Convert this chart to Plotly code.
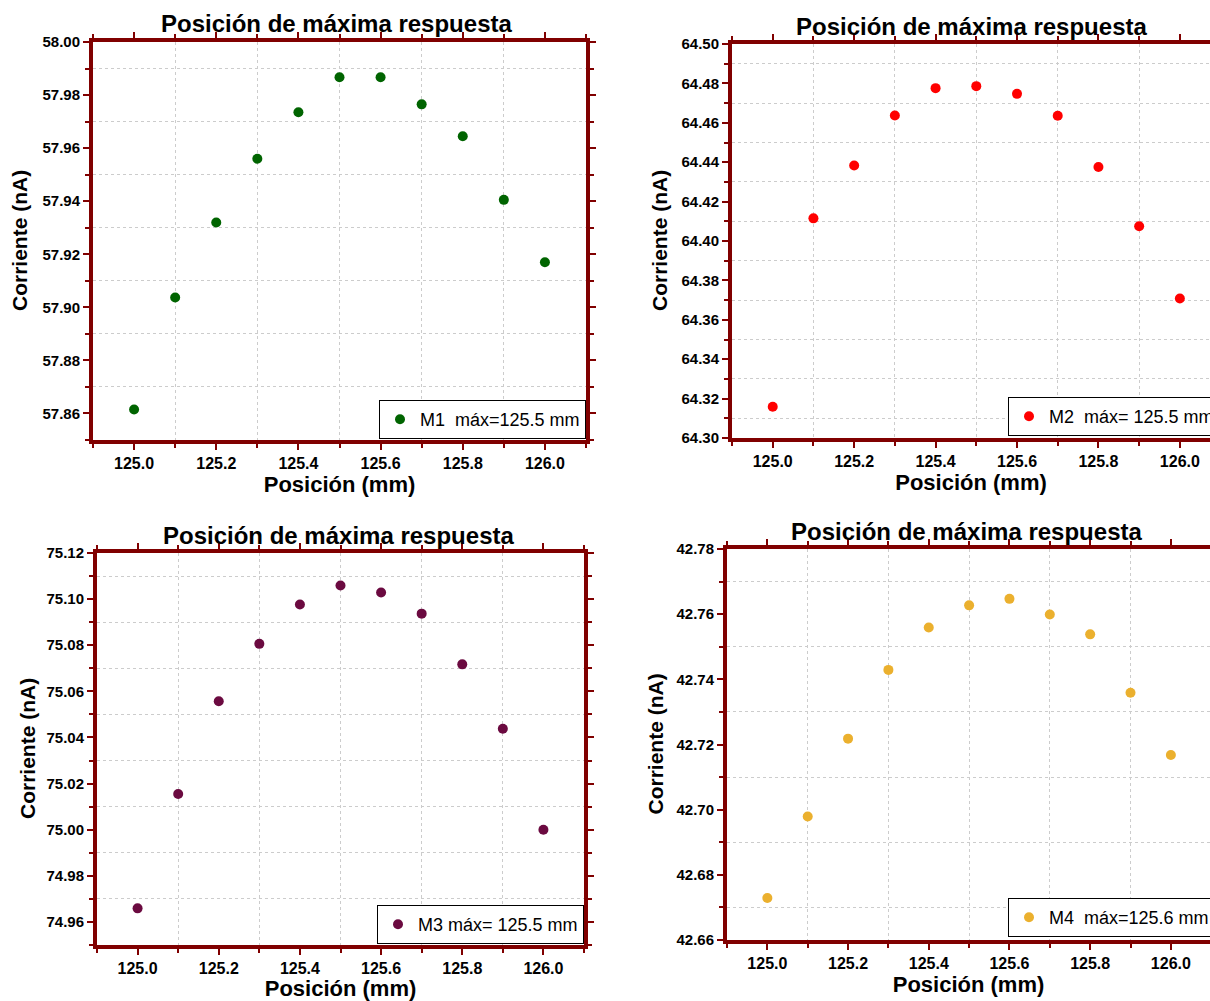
import plotly.graph_objects as go

W, H = 1210, 1001

# ---------------- data ----------------
posicion = [125.0, 125.1, 125.2, 125.3, 125.4, 125.5, 125.6, 125.7, 125.8, 125.9, 126.0]
m1 = [57.8615, 57.9037, 57.932, 57.956, 57.9735, 57.9867, 57.9867, 57.9765, 57.9645, 57.9405, 57.917]
m2 = [64.3159, 64.4115, 64.4383, 64.4637, 64.4776, 64.4786, 64.4747, 64.4636, 64.4376, 64.4075, 64.3708]
m3 = [74.9659, 75.0155, 75.0557, 75.0806, 75.0977, 75.1059, 75.1029, 75.0937, 75.0717, 75.0438, 75.0000]
m4 = [42.6729, 42.6979, 42.7218, 42.7429, 42.7559, 42.7627, 42.7647, 42.7599, 42.7538, 42.7359, 42.7168]

names = ["M1\u00a0\u00a0máx=125.5 mm", "M2\u00a0\u00a0máx= 125.5 mm",
         "M3 máx= 125.5 mm", "M4\u00a0\u00a0máx=125.6 mm"]
series = [m1, m2, m3, m4]
colors = ["#006400", "#FF0000", "#6B0A40", "#EBB02E"]

title_text = "Posición de máxima respuesta"
xtitle = "Posición (mm)"
ytitle = "Corriente (nA)"

# ---------------- layout (pixel boxes) ----------------
boxes = [(93, 42, 586, 440), (732, 44, 1210, 438), (97, 553, 584, 945), (727, 549, 1210, 940)]
xranges = [[124.9, 126.1], [124.9, 126.074], [124.9, 126.1], [124.9, 126.097]]
yranges = [[57.85, 58.00], [64.30, 64.50], [74.95, 75.12], [42.66, 42.78]]
ytick0 = [57.86, 64.30, 74.96, 42.66]
ymirror = ["ticks", False, "ticks", False]
title_pos = [(336, 23), (972, 27), (338, 535), (966, 531)]
legend_pos = [("right", 586, 439), ("left", 1008, 436), ("right", 584, 944), ("left", 1008, 937)]
ytitle_x = [20, 660, 27, 655]

FRAME = "#800000"
FONT = "Liberation Sans, Arial, sans-serif"

fig = go.Figure()
layout = dict(
    width=W, height=H,
    margin=dict(l=0, r=0, t=0, b=0, autoexpand=False),
    paper_bgcolor="white", plot_bgcolor="white",
    font=dict(family=FONT, color="black"),
    showlegend=True,
    annotations=[],
)

for i in range(4):
    l, t, r, b = boxes[i]
    xa = "xaxis" if i == 0 else f"xaxis{i+1}"
    ya = "yaxis" if i == 0 else f"yaxis{i+1}"
    xref = "x" if i == 0 else f"x{i+1}"
    yref = "y" if i == 0 else f"y{i+1}"
    leg = "legend" if i == 0 else f"legend{i+1}"

    fig.add_trace(go.Scatter(
        x=posicion, y=series[i], mode="markers", name=names[i],
        marker=dict(color=colors[i], size=10, symbol="circle"),
        xaxis=xref, yaxis=yref, legend=leg,
    ))

    layout[xa] = dict(
        domain=[l / W, r / W], range=xranges[i], anchor=yref,
        tick0=125.0, dtick=0.2, tickformat=".1f",
        showgrid=False, zeroline=False,
        showline=True, linecolor=FRAME, linewidth=4, mirror="ticks",
        ticks="outside", ticklen=6, tickwidth=2, tickcolor=FRAME,
        tickfont=dict(size=16, family=FONT, weight="bold"),
        minor=dict(dtick=0.1, tick0=125.0, showgrid=True, gridcolor="#cccccc",
                   griddash="dot", gridwidth=1, ticks="outside", ticklen=4,
                   tickwidth=2, tickcolor=FRAME),
        title=dict(text=xtitle, font=dict(size=22, family=FONT, weight="bold"), standoff=6),
        automargin=False,
    )
    layout[ya] = dict(
        domain=[1 - b / H, 1 - t / H], range=yranges[i], anchor=xref,
        tick0=ytick0[i], dtick=0.02, tickformat=".2f",
        showgrid=False, zeroline=False,
        showline=True, linecolor=FRAME, linewidth=4, mirror=ymirror[i],
        ticks="outside", ticklen=6, tickwidth=2, tickcolor=FRAME,
        tickfont=dict(size=15, family=FONT, weight="bold"),
        minor=dict(dtick=0.01, tick0=ytick0[i], showgrid=True, gridcolor="#cccccc",
                   griddash="dot", gridwidth=1, ticks="outside", ticklen=4,
                   tickwidth=2, tickcolor=FRAME),
        automargin=False,
    )
    layout["annotations"].append(dict(
        text=f"<b>{ytitle}</b>", xref="paper", yref="paper",
        x=ytitle_x[i] / W, y=1 - (t + b) / 2 / H, textangle=-90,
        showarrow=False, xanchor="center", yanchor="middle",
        font=dict(size=21, family=FONT, color="black"),
    ))
    tx, ty = title_pos[i]
    layout["annotations"].append(dict(
        text=f"<b>{title_text}</b>", xref="paper", yref="paper",
        x=tx / W, y=1 - ty / H, showarrow=False, xanchor="center", yanchor="middle",
        font=dict(size=24, family=FONT, color="black"),
    ))
    anc, lx, ly = legend_pos[i]
    layout[leg] = dict(
        x=lx / W, y=1 - ly / H, xanchor=anc, yanchor="bottom",
        xref="paper", yref="paper",
        bgcolor="white", bordercolor="black", borderwidth=1,
        font=dict(size=18, family=FONT, color="black"),
        tracegroupgap=0, itemwidth=30,
    )

fig.update_layout(**layout)
fig.write_html("out.html")
